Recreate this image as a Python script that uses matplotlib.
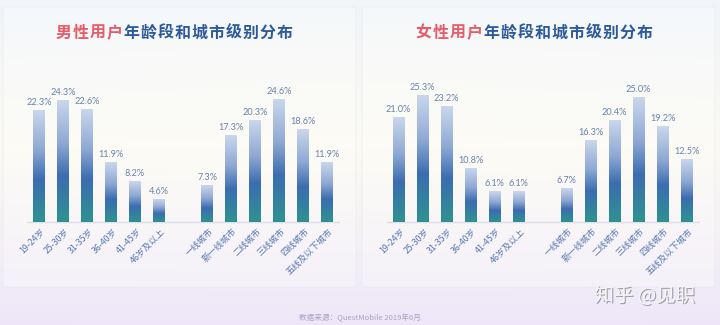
import numpy as np
import matplotlib
matplotlib.use("Agg")
import matplotlib.pyplot as plt
import matplotlib.patches as patches
import matplotlib.patheffects as pe
from matplotlib.colors import LinearSegmentedColormap

plt.rcParams['font.family'] = ['Noto Sans CJK SC', 'DejaVu Sans']

# data
age_labels = ['19-24岁', '25-30岁', '31-35岁', '36-40岁', '41-45岁', '46岁及以上']
city_labels = ['一线城市', '新一线城市', '二线城市', '三线城市', '四线城市', '五线及以下城市']
male_age = [22.3, 24.3, 22.6, 11.9, 8.2, 4.6]
male_city = [7.3, 17.3, 20.3, 24.6, 18.6, 11.9]
female_age = [21.0, 25.3, 23.2, 10.8, 6.1, 6.1]
female_city = [6.7, 16.3, 20.4, 25.0, 19.2, 12.5]

W, H = 720, 325
fig = plt.figure(figsize=(7.2, 3.25), dpi=100)

# background gradient
bg = fig.add_axes([0, 0, 1, 1], zorder=-10)
bg.set_axis_off()
yy, xx = np.mgrid[0:1:200j, 0:1:400j]
top = np.array([0.94, 0.96, 0.98])
mid = np.array([0.985, 0.98, 0.95])
bot = np.array([0.935, 0.905, 0.975])
t = yy[..., None]
img = np.where(t < 0.45, top + (mid - top) * (t / 0.45), mid + (bot - mid) * ((t - 0.45) / 0.55))
warm = np.exp(-((xx - 0.5) ** 2) / 0.25 - ((yy - 0.35) ** 2) / 0.1)[..., None]
img = img * (1 - 0.3 * warm) + np.array([0.99, 0.985, 0.95]) * 0.3 * warm
bg.imshow(np.clip(img, 0, 1), extent=[0, 1, 0, 1], aspect='auto', origin='upper')
bg.set_xlim(0, 1)
bg.set_ylim(0, 1)

# panel boxes
for x0 in (3, 362):
    box = patches.FancyBboxPatch((x0 / W, 1 - 287 / H), 353 / W, 280 / H,
                                 boxstyle='round,pad=0,rounding_size=0.006',
                                 transform=fig.transFigure, facecolor='white', alpha=0.3,
                                 edgecolor='#e2e4ec', linewidth=1)
    bg.add_patch(box)

bar_cmap = LinearSegmentedColormap.from_list(
    'bars', [(0, '#cad7ec'), (0.35, '#8fa9d4'), (0.62, '#3b6db1'), (1, '#2e9290')])
grad = np.linspace(0, 1, 256)[:, None]

title_pink = '#e85c6a'
title_blue = '#2c5a9c'


def draw_title(x_start, who):
    # spaced characters, first four in pink
    title = who + '用户年龄段和城市级别分布'
    for i, ch in enumerate(title):
        fig.text((x_start + 8.5 + i * 17) / W, 1 - 33 / H, ch, fontsize=11.5,
                 fontweight='bold', color=title_pink if i < 4 else title_blue,
                 ha='center', va='center')


def draw_panel(left_px, ages, cities):
    ax = fig.add_axes([left_px / W, (H - 221.7) / H, 312 / W, 150 / H])
    ax.set_xlim(-0.5, 12.5)
    ax.set_ylim(0, 30)
    ax.set_axis_off()
    xs = list(range(6)) + list(range(7, 13))
    vals = ages + cities
    labels = age_labels + city_labels
    bars = ax.bar(xs, vals, width=0.5, color='none')
    for b, v in zip(bars, vals):
        x, w, h = b.get_x(), b.get_width(), b.get_height()
        im = ax.imshow(grad, cmap=bar_cmap, extent=[x, x + w, 0, h], aspect='auto',
                       origin='upper', zorder=2)
        im.set_clip_path(b)
        ax.text(x + w / 2, h + 0.6, f'{v:.1f}%', ha='center', va='bottom',
                fontsize=6.6, color='#6a82ad', family=['Lato', 'DejaVu Sans'])
    ax.plot([-0.5, 12.5], [0, 0], color='#dcdfe8', lw=1, zorder=1, clip_on=False)
    for x, lab in zip(xs, labels):
        ax.text(x + 0.05, -1.0, lab, rotation=45, rotation_mode='anchor', ha='right', va='top',
                fontsize=6.3, color='#5577b2')


draw_panel(27, male_age, male_city)
draw_panel(386.5, female_age, female_city)
draw_title(55, '男性')
draw_title(415, '女性')

fig.text(360 / W, 1 - 318 / H, '数据来源：QuestMobile 2019年6月', ha='center', va='center',
         fontsize=5.5, color='#a9a2c6', style='italic')

fig.text(645 / W, 1 - 296 / H, '知乎 @见职', ha='center', va='center', fontsize=14,
         color='#f6f6f8',
         path_effects=[pe.SimplePatchShadow(offset=(0.8, -0.8), shadow_rgbFace='#8a8a90', alpha=0.8),
                       pe.Normal()])

fig.savefig('out.png', dpi=100)
